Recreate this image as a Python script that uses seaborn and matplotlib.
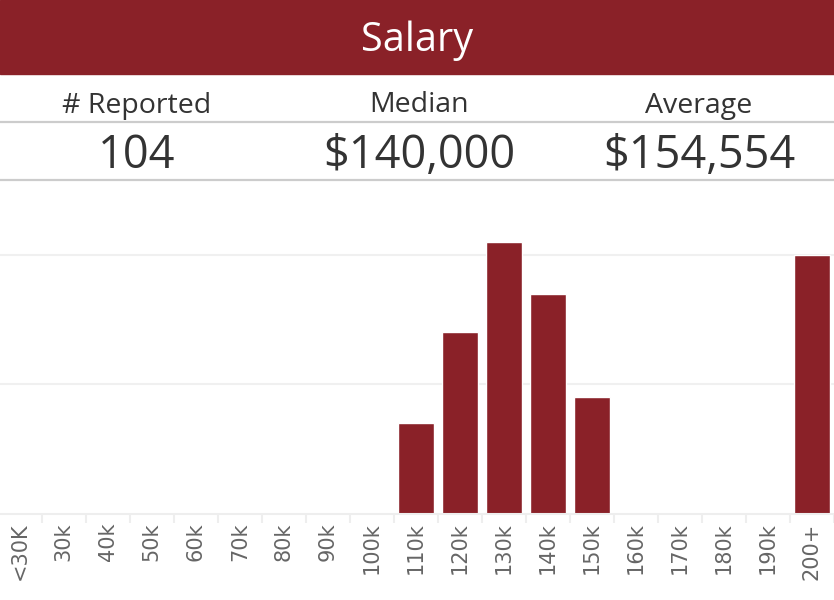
import matplotlib
matplotlib.use('Agg')
import matplotlib.pyplot as plt
from matplotlib.patches import Rectangle
from matplotlib.lines import Line2D
import seaborn as sns

# salary buckets and number of respondents per bucket
categories = ['<30K', '30k', '40k', '50k', '60k', '70k', '80k', '90k', '100k',
              '110k', '120k', '130k', '140k', '150k', '160k', '170k', '180k',
              '190k', '200+']
counts = [0, 0, 0, 0, 0, 0, 0, 0, 0, 7, 14, 21, 17, 9, 0, 0, 0, 0, 20]

# summary figures in the header
stat_labels = ['# Reported', 'Median', 'Average']
stat_values = ['104', '$140,000', '$154,554']
title = 'Salary'

red = '#8a2128'
W, H = 834, 600

sns.set_style('white')
plt.rcParams['font.family'] = ['Open Sans', 'DejaVu Sans']

fig = plt.figure(figsize=(W / 100, H / 100), dpi=100)

# header band
fig.patches.append(Rectangle((0, 1 - 74 / H), 1, 74 / H, transform=fig.transFigure,
                             color=red, zorder=0))
fig.text(0.5, 1 - 51 / H, title, color='white', fontsize=28.5, ha='center',
         va='baseline')

# stat labels and values
col_x = [137 / W, 419 / W, 699 / W]
for x, lab, val in zip(col_x, stat_labels, stat_values):
    fig.text(x, 1 - 112.5 / H, lab, color='#333333', fontsize=20.5, ha='center', va='baseline')
    fig.text(x, 1 - 167.5 / H, val, color='#333333', fontsize=32.5, ha='center', va='baseline')

for y in [121.5, 180]:
    fig.lines.append(Line2D([0, 1], [1 - y / H, 1 - y / H], transform=fig.transFigure,
                            color='#cccccc', lw=1.6))

# histogram
bottom_px, top_px = 513.5, 190
ax = fig.add_axes([0, (H - bottom_px) / H, 1, (bottom_px - top_px) / H])
sns.barplot(x=categories, y=counts, color=red, saturation=1, width=0.81, ax=ax)

ax.set_xlim(-0.45, 18.33)
ax.set_ylim(0, 25)
ax.set_yticks([10, 20])
ax.tick_params(axis='y', length=0, labelleft=False)
ax.yaxis.grid(True, color='#f0f0f0', lw=1.5)
ax.set_axisbelow(True)

ax.set_xlabel('')
ax.set_ylabel('')
ax.set_xticks(range(len(categories)))
ax.set_xticklabels(categories, rotation=90, fontsize=15, color='#666666',
                   family='DejaVu Sans')
ax.set_xticks([i + 0.5 for i in range(len(categories))], minor=True)
ax.tick_params(axis='x', which='major', length=0, pad=6.5)
ax.tick_params(axis='x', which='minor', length=6.5, width=1.5, color='#eeeeee',
               bottom=True)

for side in ['top', 'left', 'right']:
    ax.spines[side].set_visible(False)
ax.spines['bottom'].set_color('#eeeeee')
ax.spines['bottom'].set_linewidth(1.5)

fig.savefig('out.png', dpi=100)
